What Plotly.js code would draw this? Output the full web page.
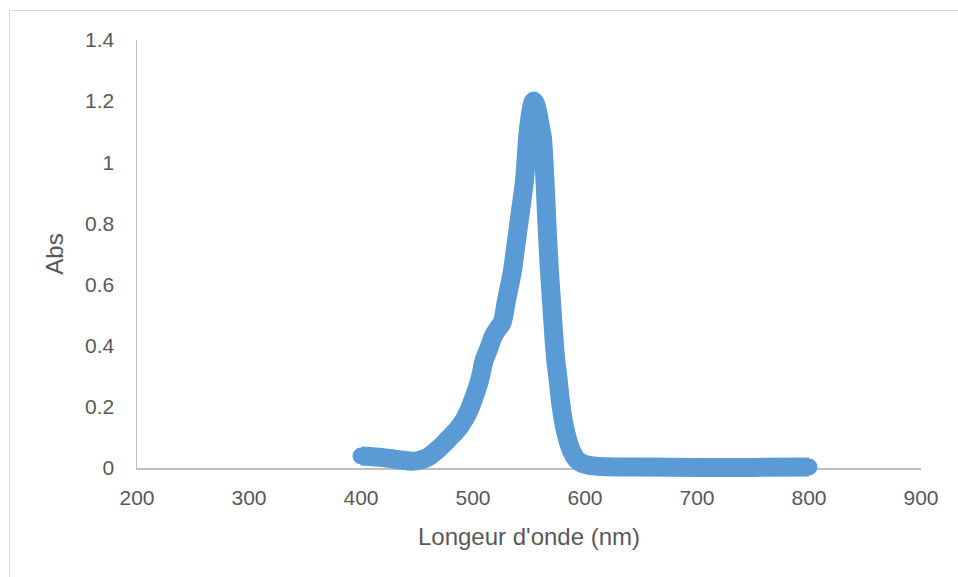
<!DOCTYPE html>
<html>
<head>
<meta charset="utf-8">
<script src="https://cdn.plot.ly/plotly-3.0.1.min.js"></script>
<style>
  html, body { margin: 0; padding: 0; background: #ffffff; }
  #chart { width: 958px; height: 577px; }
</style>
</head>
<body>
<div id="chart"></div>
<script>
// Wavelength (nm)
const wavelength = [400, 410, 420, 430, 440, 446, 452, 460, 469, 475, 481, 487, 492, 496, 500, 506, 510, 514, 518, 522, 526, 530, 535, 538, 542, 546, 549, 551, 553, 554, 556, 558, 560, 562, 564, 566, 568, 570, 572, 574, 576, 578, 580, 582, 584, 586, 588, 592, 596, 600, 610, 620, 650, 700, 750, 800];
// Absorbance
const absorbance = [0.039, 0.037, 0.034, 0.029, 0.024, 0.022, 0.025, 0.036, 0.062, 0.083, 0.106, 0.13, 0.157, 0.185, 0.222, 0.288, 0.353, 0.39, 0.43, 0.455, 0.475, 0.55, 0.64, 0.72, 0.83, 0.94, 1.09, 1.15, 1.19, 1.20, 1.19, 1.16, 1.12, 1.08, 0.96, 0.80, 0.66, 0.55, 0.44, 0.35, 0.29, 0.22, 0.17, 0.13, 0.10, 0.075, 0.055, 0.03, 0.018, 0.012, 0.006, 0.004, 0.003, 0.002, 0.002, 0.003];

const xTicks = [200, 300, 400, 500, 600, 700, 800, 900];
const yTicks = [0, 0.2, 0.4, 0.6, 0.8, 1, 1.2, 1.4];
const yTickText = ['0', '0.2', '0.4', '0.6', '0.8', '1', '1.2', '1.4'];

const blue = '#5B9BD5';
const grey = '#595959';
const fontFam = 'Liberation Sans, Arial, sans-serif';

// Plot geometry: visible plot area 40..468 px, drawing layer extends 20 px lower
const yMin = 0, yMax = 1.4;
const plotH = 428, extra = 20;
const yExtMin = yMin - extra * (yMax - yMin) / plotH;

// empty trace so the visible axes (x, y) are drawn
const axesTrace = {
  x: [null], y: [null],
  xaxis: 'x', yaxis: 'y',
  type: 'scatter', mode: 'markers',
  hoverinfo: 'skip'
};

const trace = {
  x: wavelength,
  y: absorbance,
  xaxis: 'x2',
  yaxis: 'y2',
  type: 'scatter',
  mode: 'lines+markers',
  line: { color: blue, width: 19, shape: 'spline', smoothing: 0.7 },
  marker: { color: blue, size: 17, line: { width: 0 } },
  cliponaxis: false,
  hoverinfo: 'x+y'
};

const layout = {
  width: 958,
  height: 577,
  margin: { l: 137, r: 37, t: 40, b: 109 - extra },
  paper_bgcolor: '#ffffff',
  plot_bgcolor: 'rgba(0,0,0,0)',
  showlegend: false,
  font: { family: fontFam, color: grey, size: 21 },
  xaxis: {
    range: [200, 900],
    tickvals: xTicks,
    ticktext: xTicks.map(String),
    showgrid: false,
    zeroline: false,
    showline: true,
    linecolor: '#BFBFBF',
    linewidth: 1.5,
    ticks: '',
    ticklabelstandoff: 10,
    tickfont: { family: fontFam, color: grey, size: 21 },
    title: { text: "Longeur d'onde (nm)", font: { family: fontFam, color: grey, size: 24 }, standoff: 20 },
    anchor: 'y',
    fixedrange: true
  },
  yaxis: {
    domain: [extra / (plotH + extra), 1],
    range: [yMin, yMax],
    tickvals: yTicks,
    ticktext: yTickText,
    showgrid: false,
    zeroline: false,
    showline: true,
    linecolor: '#BFBFBF',
    linewidth: 1.5,
    ticks: '',
    ticklabelstandoff: 17,
    tickfont: { family: fontFam, color: grey, size: 21 },
    title: { text: 'Abs', font: { family: fontFam, color: grey, size: 24 }, standoff: 14 },
    anchor: 'x',
    fixedrange: true
  },
  xaxis2: {
    range: [200, 900],
    domain: [0, 1],
    anchor: 'y2',
    visible: false,
    fixedrange: true
  },
  yaxis2: {
    range: [yExtMin, yMax],
    domain: [0, 1],
    anchor: 'x2',
    visible: false,
    fixedrange: true
  },
  shapes: [{
    type: 'rect',
    xref: 'paper', yref: 'paper',
    x0: (9.5 - 137) / 784, x1: (975 - 137) / 784,
    y0: -0.5, y1: (488 - 10.5) / 448,
    line: { color: '#D9D9D9', width: 1 },
    fillcolor: 'rgba(0,0,0,0)',
    layer: 'below'
  }]
};

Plotly.newPlot('chart', [axesTrace, trace], layout, { displayModeBar: false, staticPlot: true });
</script>
</body>
</html>
